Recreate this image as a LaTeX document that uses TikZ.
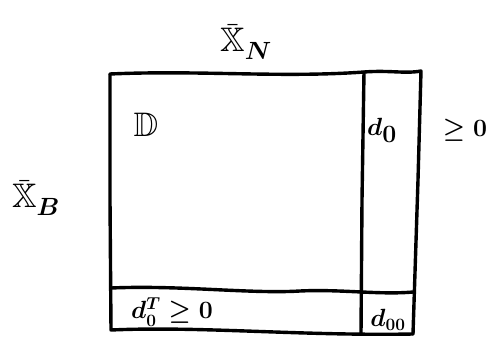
\documentclass[tikz,border=0pt]{standalone}
\usepackage{amssymb}
\begin{document}
\begin{tikzpicture}[x=1pt,y=-1pt,
  stroke/.style={line width=3.4pt,line cap=round,line join=round},
  lbl/.style={inner sep=0pt,font=\fontsize{34}{38}\selectfont\boldmath},
  lblsm/.style={inner sep=0pt,font=\fontsize{26}{30}\selectfont\boldmath}]
\useasboundingbox (0,0) rectangle (493,338);
\fill[white] (0,0) rectangle (493,338);
% frame
\draw[stroke] (110,74) .. controls (200,70) and (280,78) .. (364,72) .. controls (390,70) and (405,74) .. (421,71)
  -- (418,180) -- (413,334);
\draw[stroke] (110,74) -- (110,200) -- (111,330) .. controls (200,326) and (300,336) .. (413,334);
\draw[stroke] (364,72) -- (362,200) -- (361,334);
\draw[stroke] (111,288) .. controls (180,285) and (250,294) .. (300,291) .. controls (340,289) and (380,295) .. (413,292);
% labels
\node[lbl] (xn) at (246,42) {$\bar{\mathbb{X}}_N$};
\node[lbl] (xb) at (36,198) {$\bar{\mathbb{X}}_B$};
\node[lbl] (D) at (146,125) {$\mathbb{D}$};
\node[lbl] (d0) at (382,130) {$d_0$};
\node[lblsm] (geq) at (465,130) {$\geq 0$};
\node[lblsm] (dT) at (172,312) {$d^T_0 \geq 0$};
\node[lblsm] (d00) at (388,320) {$d_{00}$};
\end{tikzpicture}
\end{document}
